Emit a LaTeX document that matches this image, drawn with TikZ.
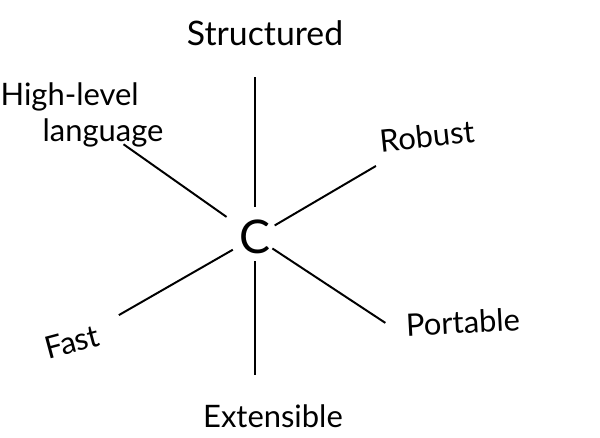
\documentclass[tikz,border=0pt]{standalone}
\usepackage{fontspec}
\setmainfont{Lato}
\begin{document}
\begin{tikzpicture}[x=0.025cm,y=-0.025cm,
  lbl/.style={font=\fontsize{22}{25}\selectfont,inner sep=0pt},
  spoke/.style={line width=1.4pt}]
\useasboundingbox (0,0) rectangle (600,438);
\node[inner sep=0pt,font=\fontsize{33}{35}\selectfont] (c) at (255,237) {C};
\node[lbl,font=\fontsize{24}{26}\selectfont] (st) at (265,33) {Structured};
\node[lbl,align=left] (hl) at (82,115) {High-level\\\hspace*{1.05cm}language};
\node[lbl,rotate=6] (rb) at (427,136) {Robust};
\node[lbl,rotate=15] (fa) at (72,342) {Fast};
\node[lbl,rotate=3] (po) at (463,322) {Portable};
\node[lbl] (ex) at (273,416) {Extensible};
% spokes out of C
\draw[spoke,shorten <=0.75cm,shorten >=1.1cm] (c.center) -- (c.center |- st.center);
\draw[spoke,shorten <=0.6cm,shorten >=1.03cm] (c.center) -- (c.center |- ex.center);
\draw[spoke,shorten <=0.87cm,shorten >=1.27cm] (c.center) -- (hl.center);
\draw[spoke,shorten <=0.57cm,shorten >=1.48cm] (c.center) -- (rb.center);
\draw[spoke,shorten <=0.64cm,shorten >=1.35cm] (c.center) -- (fa.center);
\draw[spoke,shorten <=0.52cm,shorten >=0.63cm] (c.center) -- (po.south west);
\end{tikzpicture}
\end{document}
